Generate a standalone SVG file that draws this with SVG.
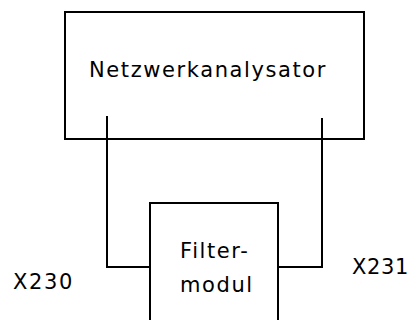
<svg xmlns="http://www.w3.org/2000/svg" width="412" height="320" viewBox="0 0 412 320">
<style>
.box{fill:none;stroke:#000;stroke-width:2}
.wire{fill:none;stroke:#000;stroke-width:2}
text{font-family:"DejaVu Sans","Noto Sans",sans-serif;fill:#000;font-size:21px;letter-spacing:1.6px}
</style>
<rect width="412" height="320" fill="#fff"/>
<g id="netzwerkanalysator">
<rect class="box" x="65" y="12" width="299" height="127"/>
<text x="89" y="77">Netzwerkanalysator</text>
</g>
<g id="filtermodul">
<path class="box" d="M150 322 V203 H278 V322"/>
<text x="180" y="258">Filter-</text>
<text x="180" y="292">modul</text>
</g>
<g id="connectors">
<path class="wire" d="M107 116 V267 H150"/>
<path class="wire" d="M322 118 V267 H278"/>
</g>
<g id="labels">
<text x="13" y="289">X230</text>
<text x="352" y="274" style="letter-spacing:0.6px">X231</text>
</g>
</svg>
